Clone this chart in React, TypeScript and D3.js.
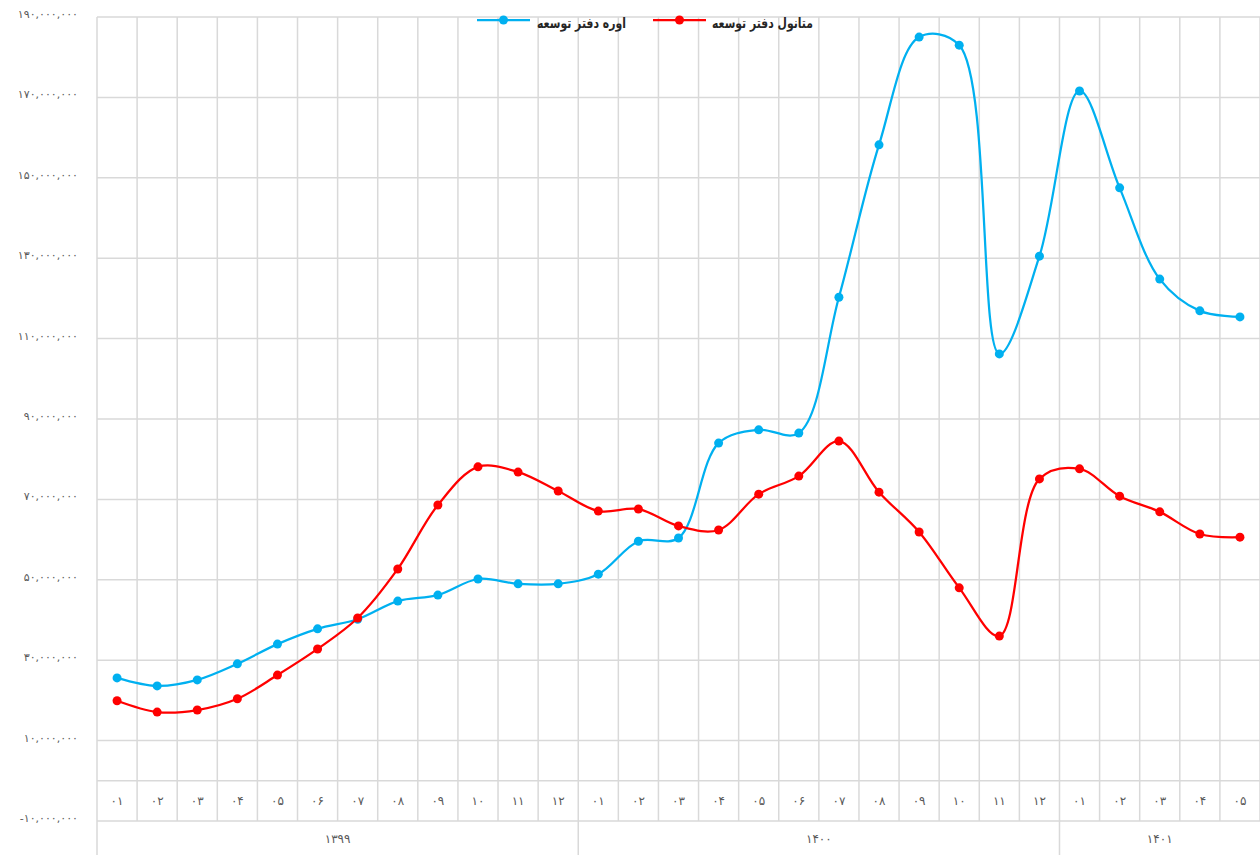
import React from "react";
import * as d3 from "d3";

const months: string[] = [
  "۰۱","۰۲","۰۳","۰۴","۰۵","۰۶","۰۷","۰۸","۰۹","۱۰","۱۱","۱۲",
  "۰۱","۰۲","۰۳","۰۴","۰۵","۰۶","۰۷","۰۸","۰۹","۱۰","۱۱","۱۲",
  "۰۱","۰۲","۰۳","۰۴","۰۵",
];
const years: { label: string; count: number }[] = [
  { label: "۱۳۹۹", count: 12 },
  { label: "۱۴۰۰", count: 12 },
  { label: "۱۴۰۱", count: 5 },
];
// values in millions
const urea: number[] = [
  25.6, 23.6, 25.1, 29.1, 34.0, 37.8, 40.2, 44.7, 46.2, 50.2, 49.0, 49.0,
  51.4, 59.6, 60.4, 84.0, 87.3, 86.5, 120.3, 158.2, 185.0, 183.0, 106.2, 130.5,
  171.6, 147.5, 124.8, 116.9, 115.4,
];
const methanol: number[] = [
  19.9, 17.1, 17.6, 20.4, 26.3, 32.8, 40.5, 52.7, 68.6, 78.1, 76.8, 72.1,
  67.1, 67.6, 63.4, 62.4, 71.3, 75.8, 84.5, 71.8, 61.9, 48.0, 36.0, 75.1,
  77.6, 70.8, 66.9, 61.4, 60.6,
];
const yTicks: number[] = [-10, 10, 30, 50, 70, 90, 110, 130, 150, 170, 190];
const seriesNames: string[] = ["اوره دفتر توسعه", "متانول دفتر توسعه"];

const fa = (s: string) => s.replace(/\d/g, (d) => "۰۱۲۳۴۵۶۷۸۹"[+d]);
const fmt = (v: number) => {
  const n = d3.format(",")(Math.abs(v) * 1000000);
  return (v < 0 ? "-" : "") + fa(n);
};

export default function App() {
  const W = 1260, H = 855;
  const left = 97, right = 1260, top = 17, bottom = 821;
  const n = months.length;
  const x = d3.scaleBand<number>().domain(d3.range(n)).range([left, right]);
  const y = d3.scaleLinear().domain([-10, 190]).range([bottom, top]);
  const cx = (i: number) => (x(i) as number) + x.bandwidth() / 2;
  const line = d3
    .line<number>()
    .x((_, i) => cx(i))
    .y((d) => y(d))
    .curve(d3.curveCatmullRom.alpha(0.5));
  const grid = "#d9d9d9";
  const textCol = "#595959";
  const font = "'DejaVu Sans', 'Noto Sans', sans-serif";

  let acc = 0;
  const yearBounds = years.map((yr) => {
    const s = acc;
    acc += yr.count;
    return { ...yr, start: s, end: acc };
  });

  const series = [
    { name: seriesNames[0], data: urea, color: "#00b0f0" },
    { name: seriesNames[1], data: methanol, color: "#ff0000" },
  ];

  return (
    <svg width={W} height={H} style={{ position: "absolute", left: 0, top: 0 }} fontFamily={font}>
      <rect width={W} height={H} fill="#fff" />
      {yTicks.map((t) => (
        <line key={"h" + t} x1={left} x2={right} y1={y(t)} y2={y(t)} stroke={grid} strokeWidth={1.5} />
      ))}
      <line x1={left} x2={right} y1={y(0)} y2={y(0)} stroke={grid} strokeWidth={1.5} />
      {d3.range(n + 1).map((i) => {
        const xx = i < n ? (x(i) as number) : right;
        return <line key={"v" + i} x1={xx} x2={xx} y1={top} y2={bottom} stroke={grid} strokeWidth={1.5} />;
      })}
      {yearBounds.map((yb) => {
        const xx = x(yb.start) as number;
        return <line key={"ys" + yb.label} x1={xx} x2={xx} y1={bottom} y2={H} stroke={grid} strokeWidth={1.5} />;
      })}
      {yTicks.map((t) => (
        <text key={"yl" + t} x={78} y={y(t) + 1} textAnchor="end" fontSize={11} fill={textCol} direction="ltr">
          {fmt(t)}
        </text>
      ))}
      {months.map((m, i) => (
        <text key={"m" + i} x={cx(i)} y={(y(0) + y(-10)) / 2 + 4} textAnchor="middle" fontSize={12} fill={textCol}>
          {m}
        </text>
      ))}
      {yearBounds.map((yb) => {
        const x0 = x(yb.start) as number;
        const x1 = yb.end < n ? (x(yb.end) as number) : right;
        return (
          <text key={"yr" + yb.label} x={(x0 + x1) / 2} y={843} textAnchor="middle" fontSize={12} fill={textCol}>
            {yb.label}
          </text>
        );
      })}
      {series.map((s) => (
        <g key={s.name}>
          <path d={line(s.data) || ""} fill="none" stroke={s.color} strokeWidth={2.25} />
          {s.data.map((v, i) => (
            <circle key={i} cx={cx(i)} cy={y(v)} r={4.5} fill={s.color} />
          ))}
        </g>
      ))}
      {series.map((s, k) => {
        const lx = k === 0 ? 477 : 653;
        const tx = k === 0 ? 537 : 712;
        const tl = k === 0 ? 89 : 101;
        return (
          <g key={"lg" + k}>
            <line x1={lx} x2={lx + 53} y1={20} y2={20} stroke={s.color} strokeWidth={2.25} />
            <circle cx={lx + 26.5} cy={20} r={4.5} fill={s.color} />
            <text x={tx} y={28} textAnchor="start" fontSize={14} fontWeight={600} fill="#262626"
              textLength={tl} lengthAdjust="spacingAndGlyphs">
              {s.name}
            </text>
          </g>
        );
      })}
    </svg>
  );
}
